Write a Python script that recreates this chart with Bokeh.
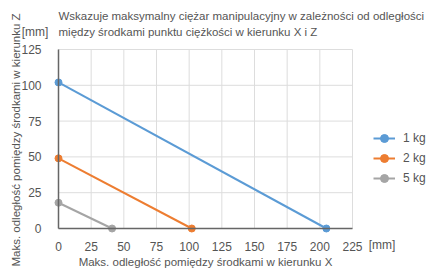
import math
from bokeh.plotting import figure
from bokeh.models import Label, Legend, LegendItem, FixedTicker, Range1d, LinearAxis
from bokeh.embed import file_html
from bokeh.resources import INLINE

# data
series_names = ["1 kg", "2 kg", "5 kg"]
x_1kg = [0, 205]
z_1kg = [102, 0]
x_2kg = [0, 102]
z_2kg = [49, 0]
x_5kg = [0, 41]
z_5kg = [18, 0]
colors = ["#5B9BD5", "#ED7D31", "#A5A5A5"]
x_ticks = [0, 25, 50, 75, 100, 125, 150, 175, 200, 225]
y_ticks = [0, 25, 50, 75, 100, 125]

title_1 = "Wskazuje maksymalny ciężar manipulacyjny w zależności od odległości"
title_2 = "między środkami punktu ciężkości w kierunku X i Z"
x_label = "Maks. odległość pomiędzy środkami w kierunku X"
y_label = "Maks. odległość pomiędzy środkami w kierunku Z"
unit = "[mm]"

FONT = "Liberation Sans"
TXT = "#555555"
FS = "12px"

W, H = 426, 268
# plot-area placement on the canvas (pixels)
PL, PR, PT, PB = 58, 352, 49, 228
xmin, xmax = x_ticks[0], x_ticks[-1]
ymin, ymax = y_ticks[0], y_ticks[-1]
sx = (PR - PL) / (xmax - xmin)
sy = (PB - PT) / (ymax - ymin)
x_range = Range1d(xmin - PL / sx, xmax + (W - PR) / sx)
y_range = Range1d(ymin - (H - PB) / sy, ymax + PT / sy)

p = figure(width=W, height=H, output_backend="svg", toolbar_location=None,
           x_range=x_range, y_range=y_range,
           x_axis_location=None, y_axis_location=None,
           min_border=0, min_border_left=0, min_border_right=0,
           min_border_top=0, min_border_bottom=0)
p.outline_line_color = None
p.background_fill_color = "white"
p.grid.visible = False

# grid lines
p.segment(x0=x_ticks, y0=[ymin] * len(x_ticks), x1=x_ticks, y1=[ymax] * len(x_ticks),
          line_color="#DDDDDD", line_width=1)
p.segment(x0=[xmin] * len(y_ticks), y0=y_ticks, x1=[xmax] * len(y_ticks), y1=y_ticks,
          line_color="#DDDDDD", line_width=1)

xa = LinearAxis(fixed_location=0, bounds=(xmin, xmax), ticker=FixedTicker(ticks=x_ticks))
ya = LinearAxis(fixed_location=0, bounds=(ymin, ymax), ticker=FixedTicker(ticks=y_ticks))
for ax in (xa, ya):
    ax.major_tick_line_color = None
    ax.minor_tick_line_color = None
    ax.axis_line_color = "#666666"
    ax.axis_line_width = 1.5
    ax.major_label_text_font = FONT
    ax.major_label_text_font_size = FS
    ax.major_label_text_color = TXT
xa.major_label_standoff = 7
ya.major_label_standoff = 11
p.add_layout(xa, "below")
p.add_layout(ya, "left")

items = []
for name, xs, zs, c in zip(series_names, [x_1kg, x_2kg, x_5kg], [z_1kg, z_2kg, z_5kg], colors):
    r1 = p.line(xs, zs, line_color=c, line_width=2)
    r2 = p.scatter(xs, zs, size=7, fill_color=c, line_color=c)
    items.append(LegendItem(label=name, renderers=[r1, r2]))

legend = Legend(items=items, location=(373, 80), padding=0, margin=0,
                border_line_color=None, background_fill_alpha=0,
                glyph_width=22, glyph_height=20, label_height=20, spacing=0,
                label_standoff=8, label_text_font=FONT, label_text_font_size=FS,
                label_text_color=TXT)
p.add_layout(legend, "center")

def lab(text, x, y, size=FS, **kw):
    p.add_layout(Label(text=text, x=x, y=y, x_units="screen", y_units="screen",
                       text_font=FONT, text_font_size=size,
                       text_color=TXT, **kw))

lab(title_1, 58, H - 15, size="11.5px", text_baseline="middle", text_align="left")
lab(title_2, 58, H - 31.5, size="11.5px", text_baseline="middle", text_align="left")
lab(unit, 34.5, H - 31.5, text_baseline="middle", text_align="center")
lab(unit, 381.5, H - 244, text_baseline="middle", text_align="center")
lab(x_label, 205, H - 261, size="11.5px", text_baseline="middle", text_align="center")
lab(y_label, 15, H - 139.5, size="11.5px", text_baseline="middle", text_align="center", angle=math.pi / 2)

open("out.html", "w").write(file_html(p, INLINE))
